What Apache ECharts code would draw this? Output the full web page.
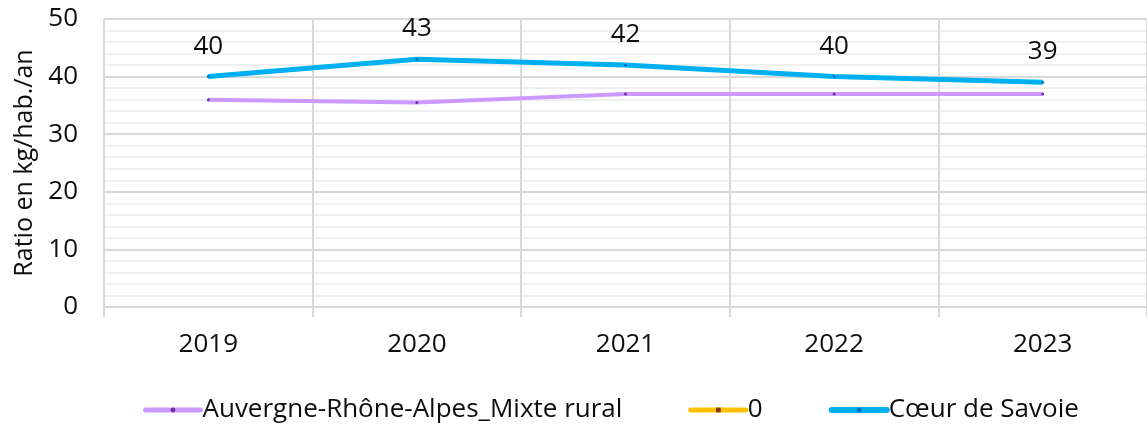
<!DOCTYPE html>
<html>
<head>
<meta charset="utf-8">
<script src="https://cdn.jsdelivr.net/npm/echarts@6/dist/echarts.min.js"></script>
<style>
  html, body { margin: 0; padding: 0; background: #fff; }
  #chart { width: 1147px; height: 430px; }
</style>
</head>
<body>
<div id="chart"></div>
<script>
// années
var years = ['2019', '2020', '2021', '2022', '2023'];
// ratios en kg/hab./an
var araMixteRural = [36, 35.5, 37, 37, 37];
var serieZero = [];
var coeurDeSavoie = [40, 43, 42, 40, 39];

var font = 'Open Sans';
var textColor = '#0d0d0d';
var chart = echarts.init(document.getElementById('chart'));

var option = {
  backgroundColor: '#ffffff',
  animation: false,
  textStyle: { fontFamily: font },
  grid: { left: 104, right: 0, top: 19, bottom: 123, outerBoundsMode: 'none' },
  legend: {
    bottom: 2,
    left: 138,
    itemWidth: 55,
    itemHeight: 6,
    itemGap: 66,
    textStyle: { fontSize: 26, color: textColor, fontFamily: font, padding: [0, 0, 0, -3] },
    data: [
      { name: 'Auvergne-Rhône-Alpes_Mixte rural', lineStyle: { width: 5, cap: 'round' } },
      { name: '0', lineStyle: { width: 5, cap: 'round' } },
      { name: 'Cœur de Savoie', lineStyle: { width: 6, cap: 'round' } }
    ]
  },
  xAxis: {
    type: 'category',
    data: years,
    boundaryGap: true,
    axisLine: { lineStyle: { color: '#d9d9d9', width: 2 } },
    axisTick: { show: true, length: 10, lineStyle: { color: '#d9d9d9', width: 2 } },
    splitLine: { show: true, lineStyle: { color: '#d9d9d9', width: 2 } },
    axisLabel: { fontSize: 26, color: textColor, margin: 25 }
  },
  yAxis: {
    type: 'value',
    min: 0,
    max: 50,
    interval: 10,
    name: 'Ratio en kg/hab./an',
    nameLocation: 'middle',
    nameGap: 63,
    nameTextStyle: { fontSize: 25, color: textColor },
    axisLine: { show: true, lineStyle: { color: '#d9d9d9', width: 2 } },
    axisTick: { show: false },
    axisLabel: { fontSize: 26, color: textColor, margin: 26 },
    splitLine: { lineStyle: { color: '#d9d9d9', width: 2 } },
    minorTick: { show: false, splitNumber: 5 },
    minorSplitLine: { show: true, lineStyle: { color: '#efefef', width: 2 } }
  },
  series: [
    {
      name: 'Auvergne-Rhône-Alpes_Mixte rural',
      type: 'line',
      data: araMixteRural,
      symbol: 'circle',
      symbolSize: 3,
      itemStyle: { color: '#7030a0' },
      lineStyle: { color: '#cc99ff', width: 4 }
    },
    {
      name: '0',
      type: 'line',
      data: serieZero,
      symbol: 'rect',
      symbolSize: 4,
      itemStyle: { color: '#843c0c' },
      lineStyle: { color: '#ffc000', width: 5 }
    },
    {
      name: 'Cœur de Savoie',
      type: 'line',
      data: coeurDeSavoie,
      symbol: 'circle',
      symbolSize: 3,
      itemStyle: { color: '#0070c0' },
      lineStyle: { color: '#00b0f0', width: 5 },
      label: {
        show: true,
        position: 'top',
        distance: 16,
        fontSize: 26,
        color: textColor
      }
    }
  ]
};

chart.setOption(option);
</script>
</body>
</html>
